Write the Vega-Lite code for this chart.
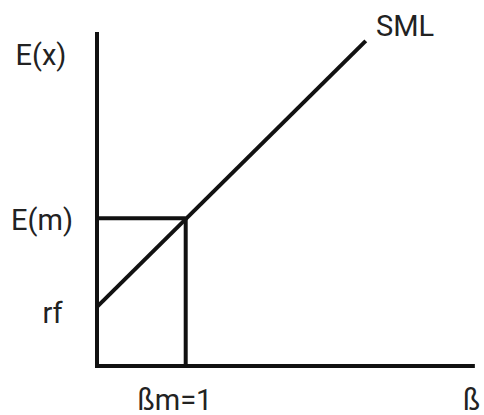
{
  "$schema": "https://vega.github.io/schema/vega-lite/v6.json",
  "width": 484,
  "height": 415,
  "autosize": "none",
  "padding": 0,
  "background": "white",
  "config": {"view": {"stroke": null}},
  "datasets": {
    "segments": [
      {"name": "y-axis", "x": 0, "y": -0.14, "x2": 0, "y2": 22.6},
      {"name": "x-axis", "x": -0.0226, "y": 0, "x2": 4.26, "y2": 0},
      {"name": "E(m) level", "x": 0, "y": 10, "x2": 1, "y2": 10},
      {"name": "beta 1 level", "x": 1, "y": 0, "x2": 1, "y2": 10},
      {"name": "SML", "x": 0, "y": 4, "x2": 3.03, "y2": 22.0}
    ],
    "labels": [
      {"label": "E(x)", "x": -0.631, "y": 20.37, "align": "center"},
      {"label": "E(m)", "x": -0.62, "y": 9.2, "align": "center"},
      {"label": "rf", "x": -0.502, "y": 2.91, "align": "center"},
      {"label": "ßm=1", "x": 0.879, "y": -2.98, "align": "center"},
      {"label": "ß", "x": 4.126, "y": -2.98, "align": "left"},
      {"label": "SML", "x": 3.145, "y": 22.33, "align": "left"}
    ]
  },
  "layer": [
    {
      "data": {"name": "segments"},
      "mark": {"type": "rule", "strokeWidth": 4, "color": "#111111"},
      "encoding": {
        "x": {"field": "x", "type": "quantitative", "axis": null, "scale": {"domain": [-1.0936, 4.363], "nice": false, "zero": false}},
        "x2": {"field": "x2"},
        "y": {"field": "y", "type": "quantitative", "axis": null, "scale": {"domain": [-3.315, 24.763], "nice": false, "zero": false}},
        "y2": {"field": "y2"}
      }
    },
    {
      "data": {"name": "labels"},
      "transform": [{"filter": "datum.align == 'center'"}],
      "mark": {"type": "text", "font": "Roboto", "fontSize": 29, "color": "#222222", "align": "center", "baseline": "alphabetic"},
      "encoding": {
        "x": {"field": "x", "type": "quantitative", "axis": null, "scale": {"domain": [-1.0936, 4.363], "nice": false, "zero": false}},
        "y": {"field": "y", "type": "quantitative", "axis": null, "scale": {"domain": [-3.315, 24.763], "nice": false, "zero": false}},
        "text": {"field": "label"}
      }
    },
    {
      "data": {"name": "labels"},
      "transform": [{"filter": "datum.align == 'left'"}],
      "mark": {"type": "text", "font": "Roboto", "fontSize": 29, "color": "#222222", "align": "left", "baseline": "alphabetic"},
      "encoding": {
        "x": {"field": "x", "type": "quantitative", "axis": null, "scale": {"domain": [-1.0936, 4.363], "nice": false, "zero": false}},
        "y": {"field": "y", "type": "quantitative", "axis": null, "scale": {"domain": [-3.315, 24.763], "nice": false, "zero": false}},
        "text": {"field": "label"}
      }
    }
  ]
}
